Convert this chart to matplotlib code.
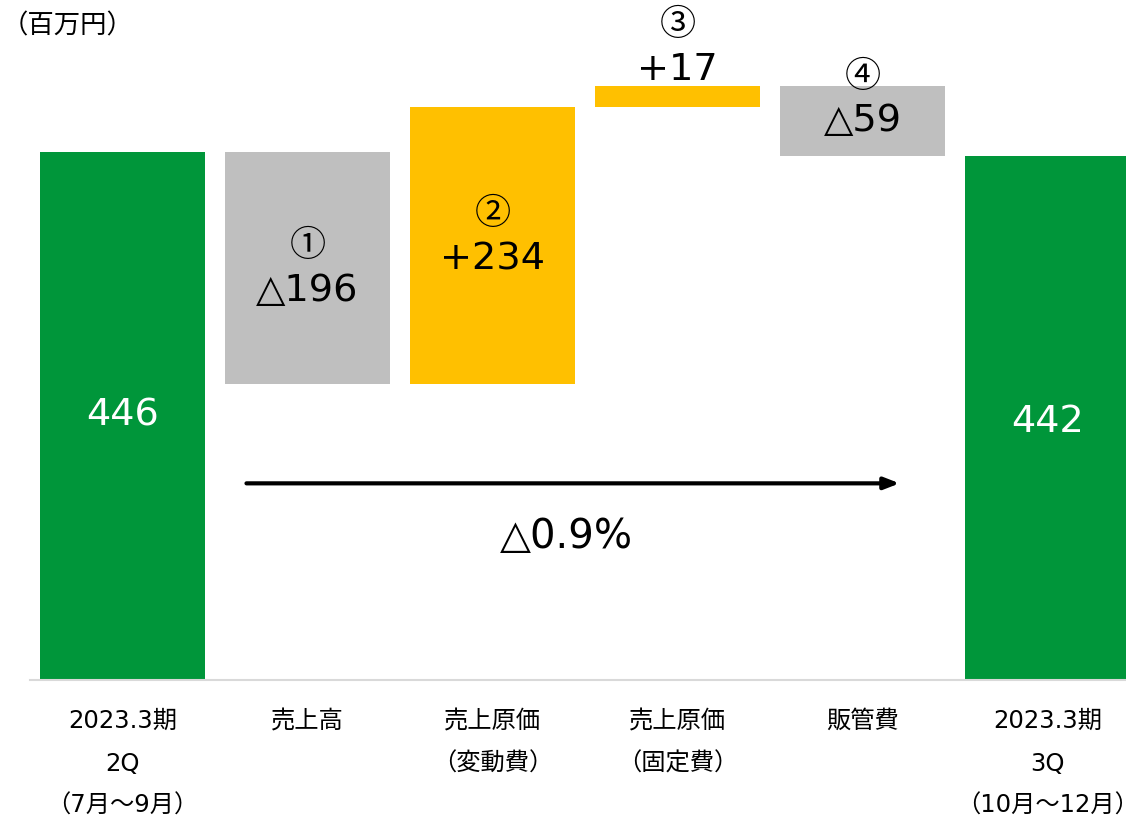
import numpy as np
import matplotlib
matplotlib.use('Agg')
import matplotlib.pyplot as plt

plt.rcParams['font.family'] = ['DejaVu Sans', 'Noto Sans CJK JP']
CJK = ['Noto Sans CJK JP', 'DejaVu Sans']

# データ
categories = ['2023.3期\n2Q\n（7月～9月）', '売上高', '売上原価\n（変動費）',
              '売上原価\n（固定費）', '販管費', '2023.3期\n3Q\n（10月～12月）']
start_value = 446
end_value = 442
changes = [-196, 234, 17, -59]
change_marks = ['①', '②', '③', '④']
change_labels = ['△196', '+234', '+17', '△59']
total_change = '△0.9%'

GREEN = '#00963A'
GRAY = '#BFBFBF'
YELLOW = '#FFC000'

fig = plt.figure(figsize=(11.26, 8.18), dpi=100)
ax = fig.add_axes([30 / 1126, 138 / 818, 1096 / 1126, 680 / 818])

x = np.arange(len(categories))
w = 165 / 185

# 開始・終了バー
ax.bar(x[0], start_value, width=w, color=GREEN)
ax.bar(x[-1], end_value, width=w, color=GREEN)

# 増減バー
level = start_value
tops = []
for i, ch in enumerate(changes):
    new = level + ch
    lo, hi = min(level, new), max(level, new)
    ax.bar(x[i + 1], hi - lo, bottom=lo, width=w,
           color=YELLOW if ch > 0 else GRAY)
    tops.append((lo, hi))
    level = new

big = 27.5
mk_size = 26
ax.text(x[0], start_value / 2, str(start_value), ha='center', va='center',
        fontsize=big, color='white')
ax.text(x[-1], end_value / 2 - 3, str(end_value), ha='center', va='center',
        fontsize=big, color='white')

# ①②: バー内、③④: バー上
for i, ((lo, hi), mk, lb) in enumerate(zip(tops, change_marks, change_labels)):
    xi = x[i + 1]
    if hi - lo > 100:
        mid = (lo + hi) / 2 + (0 if i == 0 else 8)
        ax.annotate(mk, (xi, mid), xytext=(0, 16), textcoords='offset points',
                    ha='center', va='center', fontsize=mk_size, family=CJK)
        ax.annotate(lb, (xi, mid), xytext=(0, -17), textcoords='offset points',
                    ha='center', va='center', fontsize=big)
    elif changes[i] > 0:
        ax.annotate(lb, (xi, hi), xytext=(0, 12), textcoords='offset points',
                    ha='center', va='center', fontsize=big)
        ax.annotate(mk, (xi, hi), xytext=(0, 44), textcoords='offset points',
                    ha='center', va='center', fontsize=mk_size, family=CJK)
    else:
        mid = (lo + hi) / 2
        ax.annotate(lb, (xi, mid), xytext=(0, 0), textcoords='offset points',
                    ha='center', va='center', fontsize=big)
        ax.annotate(mk, (xi, hi), xytext=(0, 7), textcoords='offset points',
                    ha='center', va='center', fontsize=mk_size, family=CJK)

# 矢印
ax.annotate('', xy=(4.2, 166), xytext=(0.67, 166),
            arrowprops=dict(arrowstyle='-|>,head_length=0.9,head_width=0.35',
                            color='black', lw=3, shrinkA=0, shrinkB=0))
ax.text(2.4, 121, total_change, ha='center', va='center', fontsize=29)

fig.text(2 / 1126, 1 - 26 / 818, '（百万円）', ha='left', va='center', fontsize=19)

ax.set_xlim(-0.5, 5.424)
ax.set_ylim(0, 574)
ax.set_xticks(x)
ax.set_xticklabels(categories, fontsize=17.5, va='top')
for lbl in ax.get_xticklabels():
    lbl.set_linespacing(1.97)
ax.tick_params(axis='x', length=0, pad=21)
ax.set_yticks([])
for s in ['top', 'left', 'right']:
    ax.spines[s].set_visible(False)
ax.spines['bottom'].set_color('#D9D9D9')
ax.spines['bottom'].set_linewidth(1.5)

fig.savefig('out.png', dpi=100)
